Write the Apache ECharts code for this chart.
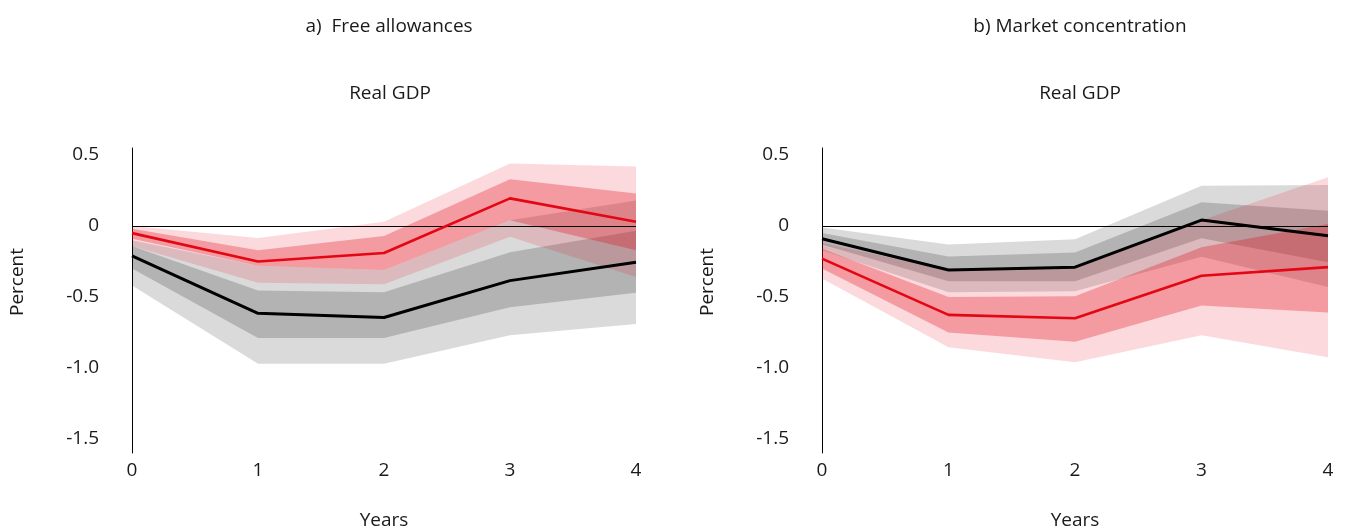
<!DOCTYPE html>
<html>
<head>
<meta charset="utf-8">
<script src="https://cdn.jsdelivr.net/npm/echarts@6.0.0/dist/echarts.min.js"></script>
<style>
  html, body { margin: 0; padding: 0; background: #ffffff; }
  #chart { width: 1351px; height: 532px; }
</style>
</head>
<body>
<div id="chart"></div>
<script>
// ---------- data ----------
const years = ['0', '1', '2', '3', '4'];
const yTicks = [-1.5, -1.0, -0.5, 0, 0.5];

// Panel a) Free allowances
const aBlack        = [-0.21, -0.615, -0.645, -0.385, -0.255];
const aGreyInnerLo  = [-0.30, -0.79, -0.79, -0.573, -0.47];
const aGreyInnerHi  = [-0.14, -0.455, -0.467, -0.185, -0.033];
const aGreyOuterLo  = [-0.42, -0.97, -0.97, -0.77, -0.69];
const aGreyOuterHi  = [-0.10, -0.28, -0.31, 0.04, 0.18];
const aRed          = [-0.05, -0.25, -0.19, 0.195, 0.03];
const aRedInnerLo   = [-0.09, -0.28, -0.31, 0.04, -0.17];
const aRedInnerHi   = [-0.02, -0.17, -0.07, 0.33, 0.23];
const aRedOuterLo   = [-0.14, -0.40, -0.41, -0.075, -0.36];
const aRedOuterHi   = [0.00, -0.085, 0.03, 0.44, 0.42];

// Panel b) Market concentration
const bBlack        = [-0.09, -0.31, -0.29, 0.042, -0.068];
const bGreyInnerLo  = [-0.13, -0.39, -0.39, -0.087, -0.256];
const bGreyInnerHi  = [-0.05, -0.214, -0.186, 0.167, 0.108];
const bGreyOuterLo  = [-0.17, -0.467, -0.46, -0.216, -0.43];
const bGreyOuterHi  = [-0.01, -0.13, -0.094, 0.284, 0.289];
const bRed          = [-0.23, -0.626, -0.65, -0.35, -0.29];
const bRedInnerLo   = [-0.30, -0.75, -0.815, -0.56, -0.61];
const bRedInnerHi   = [-0.16, -0.50, -0.495, -0.15, 0.014];
const bRedOuterLo   = [-0.37, -0.855, -0.96, -0.77, -0.925];
const bRedOuterHi   = [-0.12, -0.31, -0.29, 0.04, 0.343];

// ---------- styles ----------
const FONT = 'Open Sans';
const FS = 19;
const TXT = '#1a1a1a';
const RED = '#e30613';
const RED_OUTER = 'rgba(229,0,18,0.15)';
const RED_INNER = 'rgba(229,0,18,0.29)';
const GREY_OUTER = 'rgba(0,0,0,0.145)';
const GREY_INNER = 'rgba(0,0,0,0.175)';

function band(idx, name, lo, hi, color) {
  const stack = 'band_' + idx + '_' + name;
  return [
    {
      type: 'line', xAxisIndex: idx, yAxisIndex: idx, stack: stack, stackStrategy: 'all',
      data: lo, symbol: 'none', silent: true, lineStyle: { width: 0, opacity: 0 }
    },
    {
      type: 'line', xAxisIndex: idx, yAxisIndex: idx, stack: stack, stackStrategy: 'all',
      data: hi.map((v, i) => +(v - lo[i]).toFixed(4)), symbol: 'none', silent: true,
      lineStyle: { width: 0, opacity: 0 }, areaStyle: { color: color, opacity: 1 }
    }
  ];
}

function line(idx, data, color, width, withZero) {
  const s = {
    type: 'line', xAxisIndex: idx, yAxisIndex: idx, data: data, symbol: 'none',
    lineStyle: { color: color, width: width }, z: 5, silent: true
  };
  if (withZero) {
    s.markLine = {
      silent: true, symbol: 'none', label: { show: false },
      lineStyle: { color: '#000', width: 1, type: 'solid' },
      data: [{ yAxis: 0 }], z: 4
    };
  }
  return s;
}

function xAxis(idx) {
  return {
    type: 'category', gridIndex: idx, data: years, boundaryGap: false,
    axisLine: { show: false }, axisTick: { show: false }, splitLine: { show: false },
    axisLabel: { color: TXT, fontFamily: FONT, fontSize: FS, margin: 8 },
    name: 'Years', nameLocation: 'middle', nameGap: 58,
    nameTextStyle: { color: TXT, fontFamily: FONT, fontSize: FS }
  };
}

function yAxis(idx) {
  return {
    type: 'value', gridIndex: idx, min: -1.6, max: 0.55,
    axisLine: { show: true, onZero: false, lineStyle: { color: '#000', width: 1 } },
    axisTick: { show: false }, splitLine: { show: false },
    axisLabel: {
      customValues: yTicks, color: TXT, fontFamily: FONT, fontSize: FS, margin: 33,
      formatter: v => (Math.abs(v) < 1e-9 ? '0' : v.toFixed(1))
    }
  };
}

const series = [].concat(
  band(0, 'go', aGreyOuterLo, aGreyOuterHi, GREY_OUTER),
  band(0, 'gi', aGreyInnerLo, aGreyInnerHi, GREY_INNER),
  band(0, 'ro', aRedOuterLo, aRedOuterHi, RED_OUTER),
  band(0, 'ri', aRedInnerLo, aRedInnerHi, RED_INNER),
  [line(0, aBlack, '#000', 3, true), line(0, aRed, RED, 2.6, false)],
  band(1, 'go', bGreyOuterLo, bGreyOuterHi, GREY_OUTER),
  band(1, 'gi', bGreyInnerLo, bGreyInnerHi, GREY_INNER),
  band(1, 'ro', bRedOuterLo, bRedOuterHi, RED_OUTER),
  band(1, 'ri', bRedInnerLo, bRedInnerHi, RED_INNER),
  [line(1, bBlack, '#000', 3, true), line(1, bRed, RED, 2.6, false)]
);

const titleStyle = { color: TXT, fontFamily: FONT, fontSize: FS, fontWeight: 'normal' };

const option = {
  backgroundColor: '#ffffff',
  animation: false,
  title: [
    { text: 'a)  Free allowances', left: 384, top: 12, textAlign: 'center', textStyle: titleStyle },
    { text: 'Real GDP', left: 385, top: 79, textAlign: 'center', textStyle: titleStyle },
    { text: 'b) Market concentration', left: 1075, top: 12, textAlign: 'center', textStyle: titleStyle },
    { text: 'Real GDP', left: 1075, top: 79, textAlign: 'center', textStyle: titleStyle }
  ],
  graphic: [
    { type: 'text', x: 18, y: 282, rotation: Math.PI / 2,
      style: { text: 'Percent', fill: TXT, font: FS + 'px "Open Sans"', align: 'center', verticalAlign: 'middle' } },
    { type: 'text', x: 708, y: 282, rotation: Math.PI / 2,
      style: { text: 'Percent', fill: TXT, font: FS + 'px "Open Sans"', align: 'center', verticalAlign: 'middle' } }
  ],
  grid: [
    { left: 132, top: 148, width: 504, height: 305, outerBoundsMode: 'none', containLabel: false },
    { left: 822, top: 148, width: 506, height: 305, outerBoundsMode: 'none', containLabel: false }
  ],
  xAxis: [xAxis(0), xAxis(1)],
  yAxis: [yAxis(0), yAxis(1)],
  series: series
};

const chart = echarts.init(document.getElementById('chart'));
chart.setOption(option);
</script>
</body>
</html>
